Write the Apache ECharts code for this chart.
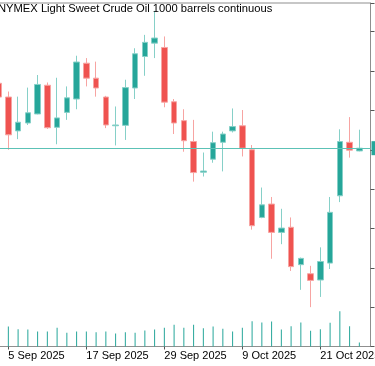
<!DOCTYPE html>
<html>
<head>
<meta charset="utf-8">
<script src="https://cdn.jsdelivr.net/npm/echarts@6/dist/echarts.min.js"></script>
<style>
html,body{margin:0;padding:0;background:#fff;}
#c{width:375px;height:366px;}
</style>
</head>
<body>
<div id="c"></div>
<script>
const titleText = 'NYMEX Light Sweet Crude Oil 1000 barrels continuous';
const dates = ['4 Sep 2025','5 Sep 2025','8 Sep 2025','9 Sep 2025','10 Sep 2025','11 Sep 2025','12 Sep 2025',
  '15 Sep 2025','16 Sep 2025','17 Sep 2025','18 Sep 2025','19 Sep 2025','22 Sep 2025','23 Sep 2025','24 Sep 2025',
  '25 Sep 2025','26 Sep 2025','29 Sep 2025','30 Sep 2025','1 Oct 2025','2 Oct 2025','3 Oct 2025','6 Oct 2025',
  '7 Oct 2025','8 Oct 2025','9 Oct 2025','10 Oct 2025','13 Oct 2025','14 Oct 2025','15 Oct 2025','16 Oct 2025',
  '17 Oct 2025','20 Oct 2025','21 Oct 2025','22 Oct 2025','23 Oct 2025','24 Oct 2025','27 Oct 2025'];
const open  = [62.69,62.34,61.48,61.68,61.91,62.64,61.57,61.95,62.29,63.20,62.82,62.34,61.61,61.62,62.57,63.37,63.71,63.60,62.22,61.74,61.21,60.43,60.76,61.19,61.48,61.61,61.00,59.28,59.62,58.90,59.03,58.08,57.85,57.69,58.12,59.83,61.19,60.97];
const close = [62.34,61.38,61.70,61.94,62.66,61.56,61.81,62.32,63.23,62.82,62.57,61.63,61.63,62.58,63.44,63.73,63.84,62.21,61.68,61.23,60.42,60.46,61.18,61.40,61.59,61.04,59.07,59.60,58.90,59.01,58.03,58.24,57.68,58.16,59.41,61.21,60.99,61.04];
const high  = [62.80,62.48,62.35,62.58,62.90,62.71,62.83,62.61,63.39,63.33,63.24,62.37,62.10,62.78,63.58,63.92,64.53,63.88,62.29,62.03,61.76,60.93,61.46,61.46,62.05,62.01,61.12,60.04,59.80,59.50,59.28,58.26,58.05,58.52,59.80,61.52,61.83,61.51];
const low   = [62.25,61.00,61.27,61.63,61.90,61.53,61.14,61.76,62.03,62.61,62.35,61.55,61.11,61.25,62.29,62.88,63.33,62.08,61.40,60.95,60.19,60.32,60.67,60.45,61.44,60.83,58.97,59.26,58.23,58.60,57.92,57.44,57.00,57.26,57.97,59.67,60.80,60.96];
const volume = [216,240,208,204,180,180,224,164,180,180,172,180,156,172,164,192,204,224,260,224,260,220,240,212,180,224,304,288,300,204,244,288,188,208,284,424,244,48];
const tickDates = ['5 Sep 2025','17 Sep 2025','29 Sep 2025','9 Oct 2025','21 Oct 2025'];

const candleData = dates.map((d, i) => [i, open[i], close[i], low[i], high[i]]);
const volData = dates.map((d, i) => [i, volume[i]]);
const tickIdx = tickDates.map(t => dates.indexOf(t));
const lastClose = close[close.length - 1];

const FONT = 'Liberation Sans';
const frameColor = '#8f8f8f';
const xMin = -0.882, xMax = 38.144;

const chart = echarts.init(document.getElementById('c'), null, {renderer: 'canvas'});
chart.setOption({
  animation: false,
  backgroundColor: '#ffffff',
  title: {
    text: titleText, left: -2, top: 3, padding: 0,
    textStyle: {fontFamily: FONT, fontSize: 11.2, fontWeight: 'normal', color: '#000'}
  },
  grid: [
    {left: -10, right: 4.5, top: 3, bottom: 19.5, show: true, borderColor: frameColor, borderWidth: 1,
     backgroundColor: 'transparent', containLabel: false, outerBoundsMode: 'none'},
    {left: -10, right: 4.5, bottom: 19.5, height: 60, containLabel: false, outerBoundsMode: 'none'}
  ],
  xAxis: [
    {
      type: 'value', gridIndex: 0, min: xMin, max: xMax, position: 'bottom',
      splitLine: {show: false},
      axisLine: {show: true, onZero: false, lineStyle: {color: frameColor}},
      axisTick: {show: true, length: 3, customValues: tickIdx, lineStyle: {color: '#555'}},
      axisLabel: {
        show: true, customValues: tickIdx, align: 'left', margin: 4,
        fontFamily: FONT, fontSize: 11, color: '#000',
        formatter: v => dates[Math.round(v)] || ''
      }
    },
    {type: 'value', gridIndex: 1, min: xMin, max: xMax, show: false}
  ],
  yAxis: [
    {
      type: 'value', gridIndex: 0, position: 'right', min: 56, max: 64.73, interval: 1,
      splitLine: {show: false},
      axisLine: {show: true, onZero: false, lineStyle: {color: frameColor}},
      axisTick: {show: true, inside: false, length: 4, lineStyle: {color: '#555'}},
      axisLabel: {show: false}
    },
    {type: 'value', gridIndex: 1, min: 0, max: 720, show: false}
  ],
  series: [
    {
      type: 'bar', xAxisIndex: 1, yAxisIndex: 1, data: volData,
      barWidth: 1, itemStyle: {color: '#26a69a'}, silent: true
    },
    {
      type: 'candlestick', xAxisIndex: 0, yAxisIndex: 0, data: candleData,
      barWidth: 6,
      itemStyle: {
        color: '#26a69a', color0: '#ef5350',
        borderColor: '#86d0c8', borderColor0: '#f7a4a2', borderWidth: 1
      },
      markLine: {
        silent: true, symbol: ['none', 'none'],
        lineStyle: {color: '#5cc2b6', type: 'solid', width: 1},
        label: {
          show: true, position: 'end', distance: 1,
          formatter: p => p.value.toFixed(2),
          backgroundColor: '#26a69a', color: '#fff', padding: [2, 3],
          fontFamily: FONT, fontSize: 10
        },
        data: [{yAxis: lastClose}]
      }
    }
  ]
});
</script>
</body>
</html>
